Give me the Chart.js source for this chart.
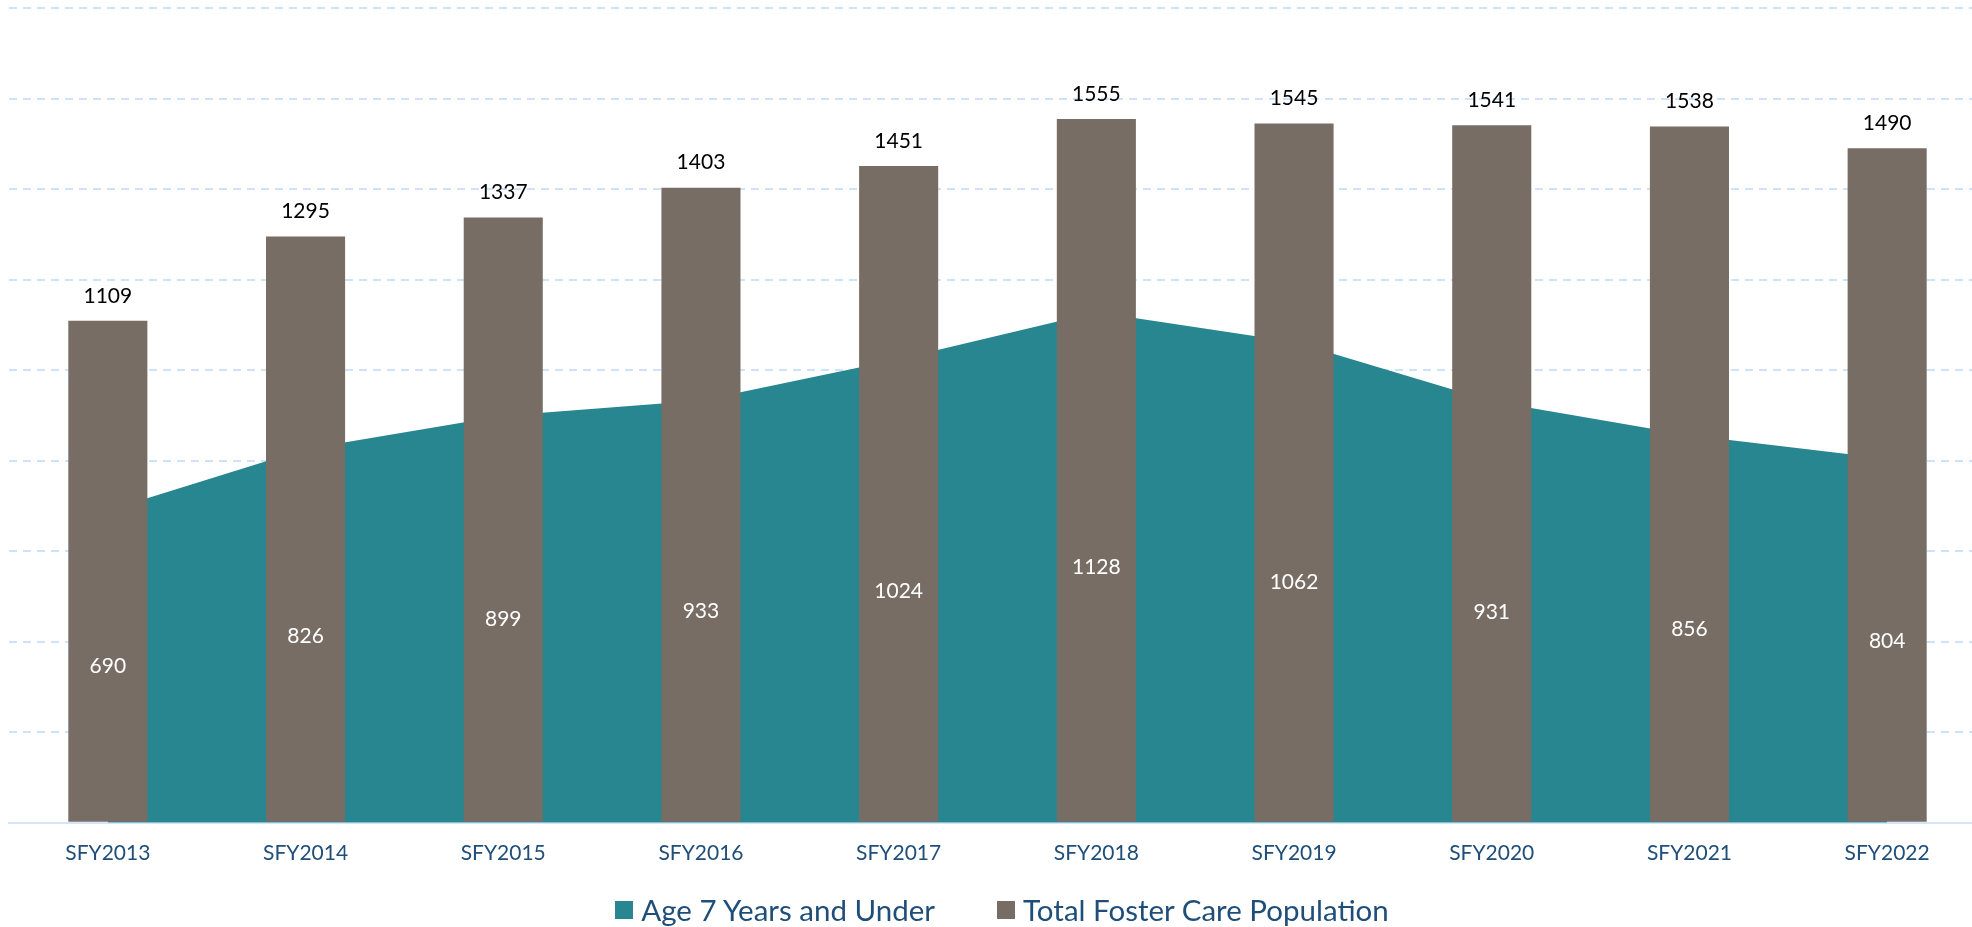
<!DOCTYPE html>
<html>
<head>
<meta charset="utf-8">
<script src="https://cdn.jsdelivr.net/npm/chart.js@4/dist/chart.umd.min.js"></script>
<style>
  html, body { margin: 0; padding: 0; background: #ffffff; overflow: hidden; width: 1972px; height: 927px; }
  #wrap { position: relative; width: 2004px; height: 927px; }
  #legend { position: absolute; left: 0; width: 2004px; top: 892px; display: flex; justify-content: center; align-items: center;
            font-family: Lato, "Open Sans", sans-serif; font-size: 29.5px; color: #1F4E79; line-height: 36px; }
  .item { display: flex; align-items: center; margin: 0 31px; }
  .sw { width: 18px; height: 18px; margin-right: 8px; display: inline-block; }
</style>
</head>
<body>
<div id="wrap">
  <canvas id="c"></canvas>
  <div id="legend"></div>
</div>
<script>
const categories = ['SFY2013','SFY2014','SFY2015','SFY2016','SFY2017','SFY2018','SFY2019','SFY2020','SFY2021','SFY2022'];
const totalFosterCare = [1109, 1295, 1337, 1403, 1451, 1555, 1545, 1541, 1538, 1490];
const age7AndUnder = [690, 826, 899, 933, 1024, 1128, 1062, 931, 856, 804];
const seriesNames = ['Age 7 Years and Under', 'Total Foster Care Population'];
const yMax = 1800;
const yStep = 200;

const TEAL = '#288690';
const BROWN = '#786D64';
const TEXT_BLUE = '#1F4E79';
const GRID = '#CFE3F6';

const labelPlugin = {
  id: 'valueLabels',
  afterDatasetsDraw(chart) {
    const ctx = chart.ctx;
    const y = chart.scales.y;
    ctx.save();
    ctx.font = '21px Lato, "Open Sans", sans-serif';
    ctx.textAlign = 'center';
    ctx.textBaseline = 'middle';
    const areaMeta = chart.getDatasetMeta(0);
    areaMeta.data.forEach((pt, i) => {
      const v = chart.data.datasets[0].data[i];
      ctx.fillStyle = '#ffffff';
      ctx.fillText(String(v), pt.x, y.getPixelForValue(v / 2));
    });
    const barMeta = chart.getDatasetMeta(1);
    barMeta.data.forEach((bar, i) => {
      const v = chart.data.datasets[1].data[i];
      ctx.fillStyle = '#000000';
      ctx.fillText(String(v), bar.x, bar.y - 25);
    });
    ctx.restore();
  }
};

const chart = new Chart(document.getElementById('c'), {
  data: {
    labels: categories,
    datasets: [
      {
        type: 'line',
        label: seriesNames[0],
        data: age7AndUnder,
        backgroundColor: TEAL,
        borderColor: TEAL,
        borderWidth: 0,
        pointRadius: 0,
        tension: 0,
        fill: 'origin',
        order: 1
      },
      {
        type: 'bar',
        label: seriesNames[1],
        data: totalFosterCare,
        backgroundColor: BROWN,
        borderWidth: 0,
        barPercentage: 0.4,
        categoryPercentage: 1.0,
        order: 0
      }
    ]
  },
  options: {
    responsive: true,
    maintainAspectRatio: false,
    animation: false,
    layout: { padding: { left: 9, right: 18, top: 8, bottom: 43 } },
    plugins: {
      legend: { display: false },
      tooltip: { enabled: false }
    },
    scales: {
      x: {
        offset: true,
        grid: { display: false, drawTicks: false },
        border: { display: true, color: '#D3E5F7', width: 2 },
        ticks: {
          color: TEXT_BLUE,
          font: { family: 'Lato, "Open Sans", sans-serif', size: 21 },
          padding: 18,
          maxRotation: 0,
          autoSkip: false
        }
      },
      y: {
        min: 0,
        max: yMax,
        ticks: { display: false, stepSize: yStep },
        grid: { color: GRID, lineWidth: 2, drawTicks: false },
        border: { display: false, dash: [8, 6] }
      }
    }
  },
  plugins: [labelPlugin]
});

const legendEl = document.getElementById('legend');
chart.data.datasets.forEach(ds => {
  const item = document.createElement('div');
  item.className = 'item';
  const sw = document.createElement('span');
  sw.className = 'sw';
  sw.style.background = ds.backgroundColor;
  const tx = document.createElement('span');
  tx.textContent = ds.label;
  item.appendChild(sw);
  item.appendChild(tx);
  legendEl.appendChild(item);
});
</script>
</body>
</html>
